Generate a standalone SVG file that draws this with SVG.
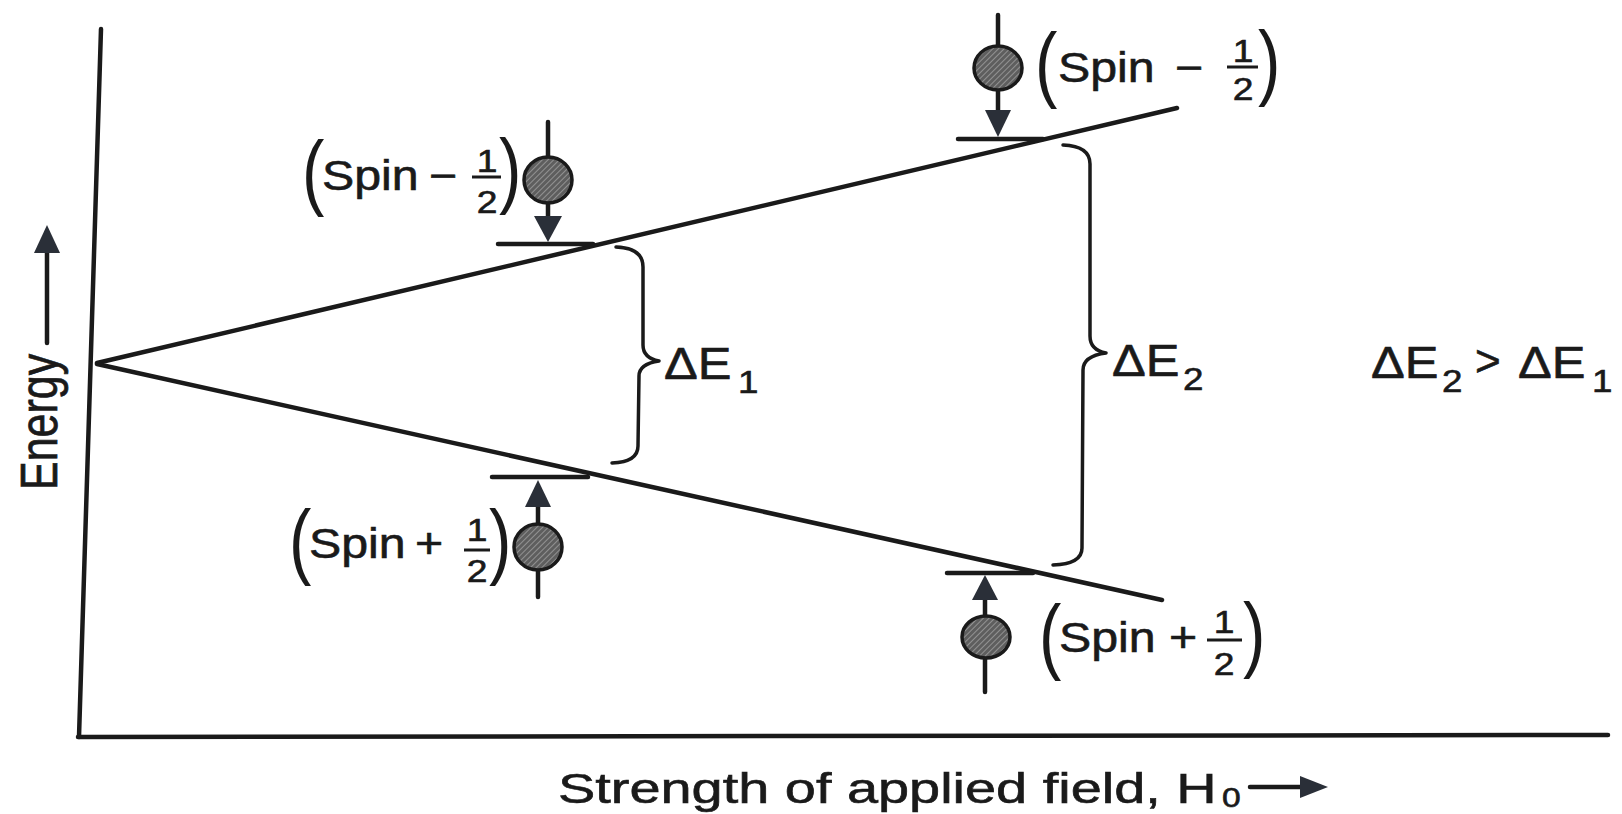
<svg xmlns="http://www.w3.org/2000/svg" width="1622" height="814" viewBox="0 0 1622 814">
<defs>
<pattern id="hatch" width="4" height="4" patternUnits="userSpaceOnUse" patternTransform="rotate(45)">
<rect width="4" height="4" fill="#5e5e5e"/>
<line x1="0" y1="0" x2="0" y2="4" stroke="#a8a8a8" stroke-width="1.4"/>
</pattern>
</defs>
<style>
.ln{stroke:#1a1a1a;stroke-width:4.5;fill:none;stroke-linecap:round}
.br{stroke:#1a1a1a;stroke-width:3.5;fill:none;stroke-linecap:round;stroke-linejoin:round}
.ball{fill:url(#hatch);stroke:#1a1a1a;stroke-width:3.5}
.head{fill:#2a2f38}
text{font-family:"Liberation Sans",Arial,sans-serif;fill:#1a1a1a;stroke:#1a1a1a;stroke-width:0.6}
.sp{font-size:42px}
.fr{font-size:31px;text-anchor:middle}
.pa{font-size:84px;stroke-width:0}
.de{font-size:44px}
.sub{font-size:32px}
.ax{font-size:43px}
.fb{stroke:#1a1a1a;stroke-width:3}
</style>
<rect width="1622" height="814" fill="#ffffff"/>

<g id="axes">
<line class="ln" x1="101" y1="29" x2="79" y2="737"/>
<line class="ln" x1="78" y1="737" x2="1608" y2="735"/>
</g>

<g id="connectors">
<line class="ln" x1="97" y1="363" x2="1177" y2="108"/>
<line class="ln" x1="97" y1="364" x2="1162" y2="600"/>
<path class="br" d="M616,247 Q643,248 643,267 L643,345 Q643,358 659,361 Q639,364 639,376 L638,446 Q638,462 612,463"/>
<path class="br" d="M1063,145 Q1090,146 1090,164 L1090,336 Q1090,350 1106,353 Q1083,356 1083,370 L1082,548 Q1082,564 1053,565"/>
</g>

<g id="energy-label">
<text style="font-size:43px" transform="translate(57,490) scale(1.2,1) rotate(-90)">Energy</text>
<line class="ln" x1="47" y1="343" x2="47" y2="250"/>
<polygon class="head" points="47,225 34,253 60,253"/>
</g>

<g id="field-label">
<text class="ax" transform="translate(558,803) scale(1.3,1)">Strength of applied field, H</text>
<text style="font-size:28px" transform="translate(1222,807) scale(1.2,1)">0</text>
<line class="ln" x1="1250" y1="787" x2="1305" y2="787"/>
<polygon class="head" points="1328,787 1300,776 1300,798"/>
</g>

<g id="level-upper-left">
<line class="ln" x1="498" y1="244" x2="593" y2="244"/>
<line class="ln" x1="548" y1="122" x2="548" y2="222"/>
<ellipse class="ball" cx="548" cy="180" rx="24" ry="23"/>
<polygon class="head" points="548,242 534,216 562,216"/>
</g>
<g id="label-upper-left">
<text class="pa" transform="translate(302,200) scale(0.8,1)">(</text>
<text class="sp" transform="translate(322,190) scale(1.15,1)">Spin</text>
<text class="sp" transform="translate(429,190) scale(1.15,1)">−</text>
<text class="fr" transform="translate(487,172) scale(1.2,1)">1</text>
<line class="fb" x1="472" y1="177" x2="501" y2="177"/>
<text class="fr" transform="translate(487,213) scale(1.2,1)">2</text>
<text class="pa" transform="translate(499,198) scale(0.8,1)">)</text>
</g>

<g id="level-upper-right">
<line class="ln" x1="958" y1="139" x2="1043" y2="139"/>
<line class="ln" x1="998" y1="15" x2="998" y2="115"/>
<ellipse class="ball" cx="998" cy="68" rx="24" ry="22"/>
<polygon class="head" points="998,137 985,110 1011,110"/>
</g>
<g id="label-upper-right">
<text class="pa" transform="translate(1035,92) scale(0.8,1)">(</text>
<text class="sp" transform="translate(1058,82) scale(1.15,1)">Spin</text>
<text class="sp" transform="translate(1175,82) scale(1.15,1)">−</text>
<text class="fr" transform="translate(1243,62) scale(1.2,1)">1</text>
<line class="fb" x1="1227" y1="67" x2="1258" y2="67"/>
<text class="fr" transform="translate(1243,100) scale(1.2,1)">2</text>
<text class="pa" transform="translate(1258,90) scale(0.8,1)">)</text>
</g>

<g id="level-lower-left">
<line class="ln" x1="492" y1="477" x2="588" y2="477"/>
<line class="ln" x1="538" y1="500" x2="538" y2="597"/>
<ellipse class="ball" cx="538" cy="547" rx="24" ry="23"/>
<polygon class="head" points="538,480 525,507 551,507"/>
</g>
<g id="label-lower-left">
<text class="pa" transform="translate(289,569) scale(0.8,1)">(</text>
<text class="sp" transform="translate(309,558) scale(1.15,1)">Spin</text>
<text class="sp" transform="translate(415,558) scale(1.15,1)">+</text>
<text class="fr" transform="translate(477,541) scale(1.2,1)">1</text>
<line class="fb" x1="464" y1="550" x2="490" y2="550"/>
<text class="fr" transform="translate(477,582) scale(1.2,1)">2</text>
<text class="pa" transform="translate(489,569) scale(0.8,1)">)</text>
</g>

<g id="level-lower-right">
<line class="ln" x1="947" y1="573" x2="1033" y2="573"/>
<line class="ln" x1="985" y1="595" x2="985" y2="692"/>
<ellipse class="ball" cx="986" cy="637" rx="24" ry="21"/>
<polygon class="head" points="985,575 972,600 998,600"/>
</g>
<g id="label-lower-right">
<text class="pa" transform="translate(1039,664) scale(0.8,1)">(</text>
<text class="sp" transform="translate(1059,652) scale(1.15,1)">Spin</text>
<text class="sp" transform="translate(1169,652) scale(1.15,1)">+</text>
<text class="fr" transform="translate(1224,633) scale(1.2,1)">1</text>
<line class="fb" x1="1207" y1="640" x2="1242" y2="640"/>
<text class="fr" transform="translate(1224,675) scale(1.2,1)">2</text>
<text class="pa" transform="translate(1243,662) scale(0.8,1)">)</text>
</g>

<g id="delta-e1">
<text class="de" transform="translate(664,379) scale(1.15,1)">ΔE</text>
<text class="sub" transform="translate(738,393) scale(1.15,1)">1</text>
</g>
<g id="delta-e2">
<text class="de" transform="translate(1112,376) scale(1.15,1)">ΔE</text>
<text class="sub" transform="translate(1183,390) scale(1.15,1)">2</text>
</g>
<g id="relation">
<text class="de" transform="translate(1371,378) scale(1.15,1)">ΔE</text>
<text class="sub" transform="translate(1442,392) scale(1.15,1)">2</text>
<text class="de" transform="translate(1475,376) scale(1.0,1)">&gt;</text>
<text class="de" transform="translate(1518,378) scale(1.15,1)">ΔE</text>
<text class="sub" transform="translate(1592,392) scale(1.15,1)">1</text>
</g>
</svg>
